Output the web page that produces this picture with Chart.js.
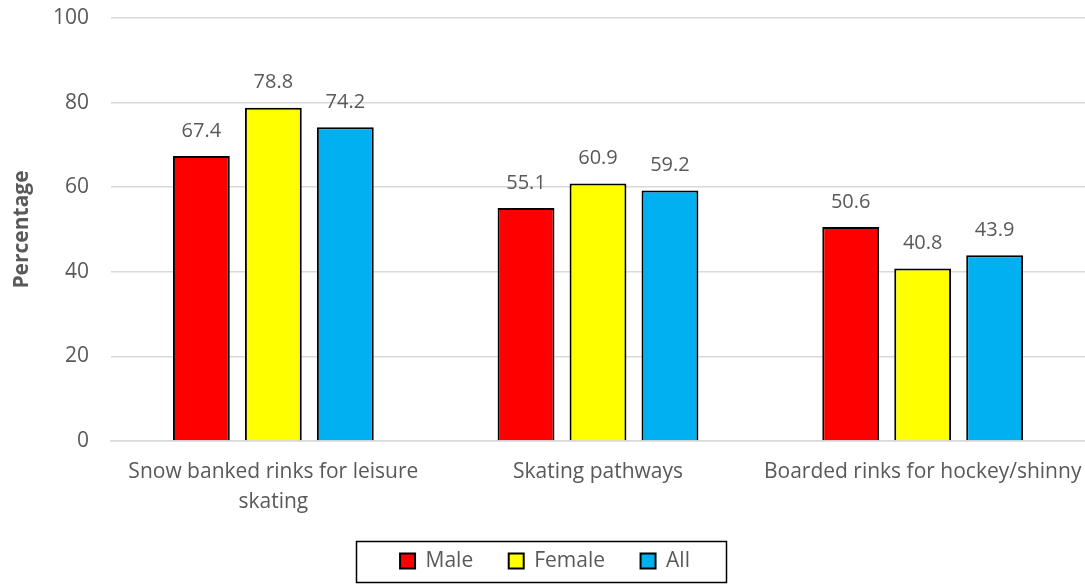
<!DOCTYPE html>
<html>
<head>
<meta charset="utf-8">
<script src="https://cdn.jsdelivr.net/npm/chart.js@4"></script>
<style>
  body { margin: 0; background: #fff; }
  #wrap { width: 1085px; height: 585px; }
</style>
</head>
<body>
<div id="wrap"><canvas id="chart"></canvas></div>
<script>
// Chart data
const categories = [['Snow banked rinks for leisure', 'skating'], 'Skating pathways', 'Boarded rinks for hockey/shinny'];
const maleValues = [67.4, 55.1, 50.6];
const femaleValues = [78.8, 60.9, 40.8];
const allValues = [74.2, 59.2, 43.9];
const yTicks = [0, 20, 40, 60, 80, 100];

const textColor = '#595959';
const fontFamily = '"Open Sans", "Noto Sans", sans-serif';
const fontSize = 21;

// Value labels above each bar
const barLabels = {
    id: 'barLabels',
    afterDatasetsDraw(chart) {
        const ctx = chart.ctx;
        ctx.save();
        ctx.fillStyle = textColor;
        ctx.font = '20px ' + fontFamily;
        ctx.textAlign = 'center';
        ctx.textBaseline = 'middle';
        chart.data.datasets.forEach((ds, i) => {
            chart.getDatasetMeta(i).data.forEach((bar, j) => {
                ctx.fillText(ds.data[j].toFixed(1), bar.x, bar.y - 25);
            });
        });
        ctx.restore();
    },
};

// Box around the legend items
const legendBox = {
    id: 'legendBox',
    afterDraw(chart) {
        const boxes = chart.legend.legendHitBoxes;
        if (!boxes || !boxes.length) return;
        const left = Math.min(...boxes.map((b) => b.left));
        const right = Math.max(...boxes.map((b) => b.left + b.width));
        const mid = boxes[0].top + boxes[0].height / 2;
        const ctx = chart.ctx;
        ctx.save();
        ctx.strokeStyle = '#000';
        ctx.lineWidth = 1.5;
        ctx.strokeRect(Math.round(left - 44) + 0.5, Math.round(mid - 20) + 0.5, Math.round(right - left) + 80, 41);
        ctx.restore();
    },
};

const barStyle = { borderColor: '#000', borderWidth: 2, borderSkipped: 'bottom' };

new Chart(document.getElementById('chart').getContext('2d'), {
    type: 'bar',
    data: {
        labels: categories,
        datasets: [
            { label: 'Male', data: maleValues, backgroundColor: '#ff0000', ...barStyle },
            { label: 'Female', data: femaleValues, backgroundColor: '#ffff00', ...barStyle },
            { label: 'All', data: allValues, backgroundColor: '#00b0f0', ...barStyle },
        ],
    },
    plugins: [barLabels, legendBox],
    options: {
        responsive: true,
        maintainAspectRatio: false,
        animation: false,
        layout: { padding: { top: 0, right: 0, left: 5, bottom: 3.5 } },
        datasets: { bar: { categoryPercentage: 0.665, barPercentage: 0.79 } },
        scales: {
            x: {
                grid: { display: false, drawTicks: false },
                border: { color: '#d9d9d9', width: 1.5 },
                ticks: {
                    color: textColor,
                    font: { size: fontSize, family: fontFamily, lineHeight: 1.43 },
                    padding: 16,
                    maxRotation: 0,
                },
                afterFit(scale) {
                    scale.height = 74;
                    scale.paddingLeft = 0;
                    scale.paddingRight = 0;
                },
            },
            y: {
                min: 0,
                max: 100,
                afterBuildTicks(axis) { axis.ticks = yTicks.map((v) => ({ value: v })); },
                afterFit(scale) { scale.width = 106; scale.paddingTop = 18; },
                grid: { color: '#d9d9d9', lineWidth: 1.5, drawTicks: false },
                border: { display: false },
                ticks: { color: textColor, font: { size: fontSize, family: fontFamily }, padding: 22 },
                title: {
                    display: true,
                    text: 'Percentage',
                    color: textColor,
                    font: { size: fontSize, weight: 'bold', family: fontFamily },
                    padding: { top: 4, bottom: 22 },
                },
            },
        },
        plugins: {
            tooltip: { enabled: false },
            legend: {
                position: 'bottom',
                labels: {
                    color: textColor,
                    font: { size: fontSize, family: fontFamily },
                    boxWidth: 15,
                    boxHeight: 15,
                    padding: 35.5,
                    useBorderRadius: false,
                    generateLabels(chart) {
                        return chart.data.datasets.map((ds, i) => ({
                            text: ds.label,
                            fillStyle: ds.backgroundColor,
                            strokeStyle: '#000',
                            lineWidth: 2,
                            fontColor: textColor,
                            datasetIndex: i,
                        }));
                    },
                },
            },
        },
    },
});
</script>
</body>
</html>
